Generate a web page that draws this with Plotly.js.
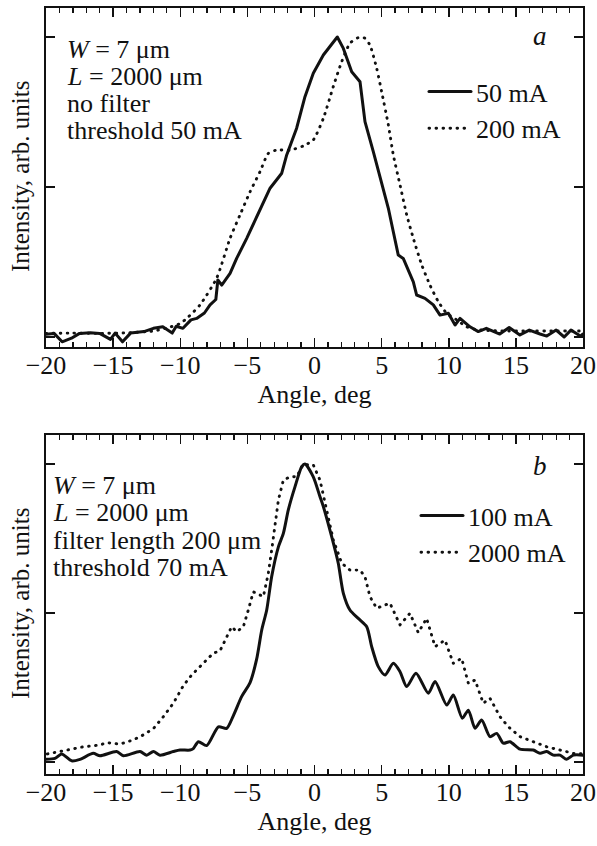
<!DOCTYPE html>
<html>
<head>
<meta charset="utf-8">
<script src="https://cdn.plot.ly/plotly-3.0.1.min.js"></script>
<style>
html,body{margin:0;padding:0;background:#fff;}
#chart{width:597px;height:846px;}
#chart path.js-line{stroke-linecap:round;stroke-linejoin:round;}
</style>
</head>
<body>
<div id="chart"></div>
<script>
// ---- Panel a data ----
const aSolidName = "50 mA";
const aSolidX = [-20, -19.4, -18.8, -18.1, -17.5, -16.7, -16.0, -15.2, -14.85, -14.3, -13.7, -12.7, -12.0, -11.3, -10.6, -10.3, -9.8, -9.2, -8.78, -8.2, -7.78, -7.35, -7.2, -6.91, -6.29, -5.8, -5.05, -4.31, -3.31, -2.44, -2.07, -1.33, -0.71, -0.09, 0.66, 1.28, 1.7, 2.15, 2.77, 3.39, 3.76, 4.38, 5.12, 5.5, 5.87, 6.24, 6.61, 7.36, 7.61, 8.23, 8.85, 9.35, 9.97, 10.47, 10.84, 11.58, 12.2, 12.8, 13.8, 14.5, 15.3, 16.0, 16.8, 17.3, 18.0, 18.6, 19.1, 19.8, 20];
const aSolidY = [0.009, 0.012, -0.016, -0.004, 0.012, 0.014, 0.012, -0.008, 0.013, -0.016, 0.013, 0.018, 0.029, 0.034, 0.013, 0.036, 0.029, 0.057, 0.062, 0.08, 0.107, 0.125, 0.19, 0.173, 0.212, 0.262, 0.329, 0.401, 0.496, 0.546, 0.607, 0.696, 0.801, 0.879, 0.94, 0.976, 1.0, 0.962, 0.884, 0.851, 0.718, 0.618, 0.496, 0.429, 0.351, 0.273, 0.262, 0.184, 0.14, 0.129, 0.107, 0.073, 0.079, 0.04, 0.062, 0.034, 0.018, 0.029, 0.01, 0.032, 0.007, 0.023, 0.01, 0.003, 0.023, 0.0, 0.023, 0.003, 0.01];

const aDotName = "200 mA";
const aDotX = [-20, -18, -16, -14, -12, -11, -10, -9.52, -8.53, -7.29, -6.29, -5.55, -4.8, -4.06, -3.44, -2.82, -1.82, -0.83, -0.09, 0.66, 1.40, 2.03, 2.64, 3.26, 3.76, 4.13, 4.63, 5.0, 5.5, 5.87, 6.37, 6.87, 7.36, 7.99, 8.6, 9.22, 9.85, 10.59, 11.34, 12, 14, 16, 18, 20];
const aDotY = [0.012, 0.013, 0.012, 0.014, 0.02, 0.03, 0.045, 0.062, 0.107, 0.196, 0.329, 0.407, 0.484, 0.551, 0.612, 0.623, 0.623, 0.637, 0.657, 0.729, 0.835, 0.918, 0.979, 0.998, 0.996, 0.973, 0.896, 0.818, 0.707, 0.607, 0.507, 0.407, 0.329, 0.24, 0.173, 0.118, 0.079, 0.057, 0.034, 0.025, 0.02, 0.02, 0.02, 0.02];

// ---- Panel b data ----
const bSolidName = "100 mA";
const bSolidX = [-20, -19.33, -18.83, -18.09, -17.47, -16.48, -15.98, -14.74, -14.24, -13.0, -12.5, -12.0, -11.51, -10.52, -10.02, -9.27, -9.03, -8.65, -8.03, -7.16, -6.54, -6.05, -5.42, -4.8, -4.31, -3.93, -3.56, -3.19, -2.69, -2.32, -1.95, -1.45, -0.95, -0.71, -0.09, 0.41, 0.66, 1.28, 1.77, 2.15, 2.64, 3.26, 3.89, 4.26, 4.75, 5.25, 5.87, 6.37, 6.87, 7.56, 8.48, 8.98, 9.85, 10.34, 11.01, 11.46, 11.96, 12.45, 13.07, 13.57, 14.06, 14.56, 15.31, 16.3, 16.8, 17.3, 17.79, 18.29, 18.78, 19.28, 20];
const bSolidY = [0.009, 0.012, 0.027, 0.004, 0.009, 0.029, 0.021, 0.035, 0.021, 0.035, 0.023, 0.035, 0.023, 0.035, 0.04, 0.04, 0.045, 0.068, 0.055, 0.118, 0.113, 0.155, 0.22, 0.266, 0.345, 0.443, 0.51, 0.622, 0.722, 0.767, 0.846, 0.924, 0.991, 1.0, 0.957, 0.89, 0.857, 0.756, 0.667, 0.566, 0.51, 0.482, 0.454, 0.387, 0.32, 0.292, 0.331, 0.303, 0.253, 0.298, 0.231, 0.27, 0.191, 0.225, 0.147, 0.174, 0.113, 0.141, 0.085, 0.096, 0.063, 0.068, 0.043, 0.04, 0.029, 0.035, 0.023, 0.023, 0.009, 0.023, 0.023];

const bDotName = "2000 mA";
const bDotX = [-19.9, -18.46, -17.22, -15.98, -15.48, -14.49, -13.5, -12.75, -12.0, -11.26, -10.52, -9.77, -9.15, -8.53, -8.03, -7.54, -7.04, -6.54, -6.17, -5.8, -5.3, -4.93, -4.56, -3.81, -3.44, -3.19, -2.94, -2.69, -2.32, -1.82, -1.33, -0.83, -0.46, -0.09, 0.41, 0.91, 1.40, 2.03, 2.64, 3.39, 3.76, 4.13, 4.63, 5.62, 6.37, 7.11, 7.73, 8.35, 8.98, 9.72, 10.34, 10.96, 11.46, 11.96, 12.57, 13.07, 13.82, 14.44, 15.31, 16.3, 17.3, 18.29, 19.28, 20];
const bDotY = [0.027, 0.04, 0.051, 0.057, 0.065, 0.06, 0.074, 0.091, 0.112, 0.152, 0.197, 0.256, 0.292, 0.32, 0.342, 0.365, 0.373, 0.42, 0.454, 0.437, 0.454, 0.51, 0.571, 0.555, 0.633, 0.711, 0.79, 0.879, 0.946, 0.957, 0.957, 1.0, 0.997, 0.997, 0.946, 0.846, 0.745, 0.667, 0.644, 0.644, 0.622, 0.555, 0.516, 0.533, 0.46, 0.499, 0.434, 0.482, 0.387, 0.409, 0.331, 0.348, 0.264, 0.275, 0.197, 0.214, 0.152, 0.118, 0.085, 0.068, 0.051, 0.04, 0.029, 0.027];

// ---- Texts ----
const xTickVals = [-20, -15, -10, -5, 0, 5, 10, 15, 20];
const yTickVals = [0, 0.5, 1];
const xTitle = "Angle, deg";
const yTitle = "Intensity, arb. units";
const aNotes = ["<i>W</i> = 7 μm", "<i>L</i> = 2000 μm", "no filter", "threshold 50 mA"];
const bNotes = ["<i>W</i> = 7 μm", "<i>L</i> = 2000 μm", "filter length 200 μm", "threshold 70 mA"];

const W = 597, H = 846;
const FONT = "'Liberation Serif', 'Times New Roman', serif";
const FS = 26;
const px = p => p / W;
const py = p => 1 - p / H;

const solid = {color: "#111", width: 3};
const dotted = {color: "#111", width: 2.9, dash: "0.6px,6.4px"};

const traces = [
  {x: aSolidX, y: aSolidY, name: aSolidName, type: "scatter", mode: "lines", line: solid, xaxis: "x", yaxis: "y", legend: "legend", legendgroup: "a1"},
  {x: aDotX, y: aDotY, name: aDotName, type: "scatter", mode: "lines", line: Object.assign({shape: "spline", smoothing: 0.6}, dotted), xaxis: "x", yaxis: "y", legend: "legend", legendgroup: "a2"},
  {x: bSolidX, y: bSolidY, name: bSolidName, type: "scatter", mode: "lines", line: Object.assign({shape: "spline", smoothing: 0.7}, solid), xaxis: "x2", yaxis: "y2", legend: "legend2", legendgroup: "b1"},
  {x: bDotX, y: bDotY, name: bDotName, type: "scatter", mode: "lines", line: dotted, xaxis: "x2", yaxis: "y2", legend: "legend2", legendgroup: "b2"}
];

function xax(anchor, standoff) {
  return {
    anchor: anchor, domain: [px(46), px(583)], range: [-20, 20],
    tickmode: "array", tickvals: xTickVals, ticktext: xTickVals.map(v => v < 0 ? "\u2212" + Math.abs(v) : String(v)),
    ticks: "inside", ticklen: 9, tickwidth: 1.5, tickcolor: "#111",
    minor: {dtick: 1, ticks: "inside", ticklen: 5, tickwidth: 1.3, tickcolor: "#111"},
    showline: true, linecolor: "#111", linewidth: 2, mirror: "ticks",
    showgrid: false, zeroline: false,
    tickfont: {family: FONT, size: FS, color: "#111"},
    ticklabelstandoff: -6,
    title: {text: xTitle, font: {family: FONT, size: FS, color: "#111"}, standoff: standoff}
  };
}
function yax(anchor, dom, rng) {
  return {
    anchor: anchor, domain: dom, range: rng,
    tickmode: "array", tickvals: yTickVals, showticklabels: false,
    ticks: "inside", ticklen: 9, tickwidth: 1.5, tickcolor: "#111",
    showline: true, linecolor: "#111", linewidth: 2, mirror: "ticks",
    showgrid: false, zeroline: false
  };
}

const ann = [];
aNotes.forEach((t, i) => ann.push({xref: "paper", yref: "paper", x: px(65), y: py(49 + i * 27), xanchor: "left", yanchor: "middle", text: t, showarrow: false, font: {family: FONT, size: FS, color: "#111"}}));
bNotes.forEach((t, i) => ann.push({xref: "paper", yref: "paper", x: px(51), y: py(485 + i * 27.5), xanchor: "left", yanchor: "middle", text: t, showarrow: false, font: {family: FONT, size: FS, color: "#111"}}));
ann.push({xref: "paper", yref: "paper", x: px(540), y: py(36), xanchor: "center", yanchor: "middle", text: "<i>a</i>", showarrow: false, font: {family: FONT, size: FS + 1, color: "#111"}});
ann.push({xref: "paper", yref: "paper", x: px(540), y: py(466), xanchor: "center", yanchor: "middle", text: "<i>b</i>", showarrow: false, font: {family: FONT, size: FS + 1, color: "#111"}});
ann.push({xref: "paper", yref: "paper", x: px(20), y: py(177), xanchor: "center", yanchor: "middle", textangle: -90, text: yTitle, showarrow: false, font: {family: FONT, size: 25, color: "#111"}});
ann.push({xref: "paper", yref: "paper", x: px(20), y: py(604), xanchor: "center", yanchor: "middle", textangle: -90, text: yTitle, showarrow: false, font: {family: FONT, size: 25, color: "#111"}});

const legFont = {family: FONT, size: FS, color: "#111"};
const layout = {
  width: W, height: H,
  margin: {l: 0, r: 0, t: 0, b: 0},
  paper_bgcolor: "#fff", plot_bgcolor: "#fff",
  font: {family: FONT, size: FS, color: "#111"},
  showlegend: true,
  xaxis: xax("y", 5),
  yaxis: yax("x", [py(347), py(8)], [-0.0333, 1.0967]),
  xaxis2: xax("y2", 5),
  yaxis2: yax("x2", [py(774), py(435)], [-0.0403, 1.0973]),
  legend: {x: px(424), y: py(68), xanchor: "left", yanchor: "top", bgcolor: "rgba(0,0,0,0)", font: legFont, tracegroupgap: 0, itemwidth: 42},
  legend2: {x: px(416), y: py(492), xanchor: "left", yanchor: "top", bgcolor: "rgba(0,0,0,0)", font: legFont, tracegroupgap: 0, itemwidth: 42},
  annotations: ann
};

Plotly.newPlot("chart", traces, layout, {staticPlot: true, displayModeBar: false});
</script>
</body>
</html>
